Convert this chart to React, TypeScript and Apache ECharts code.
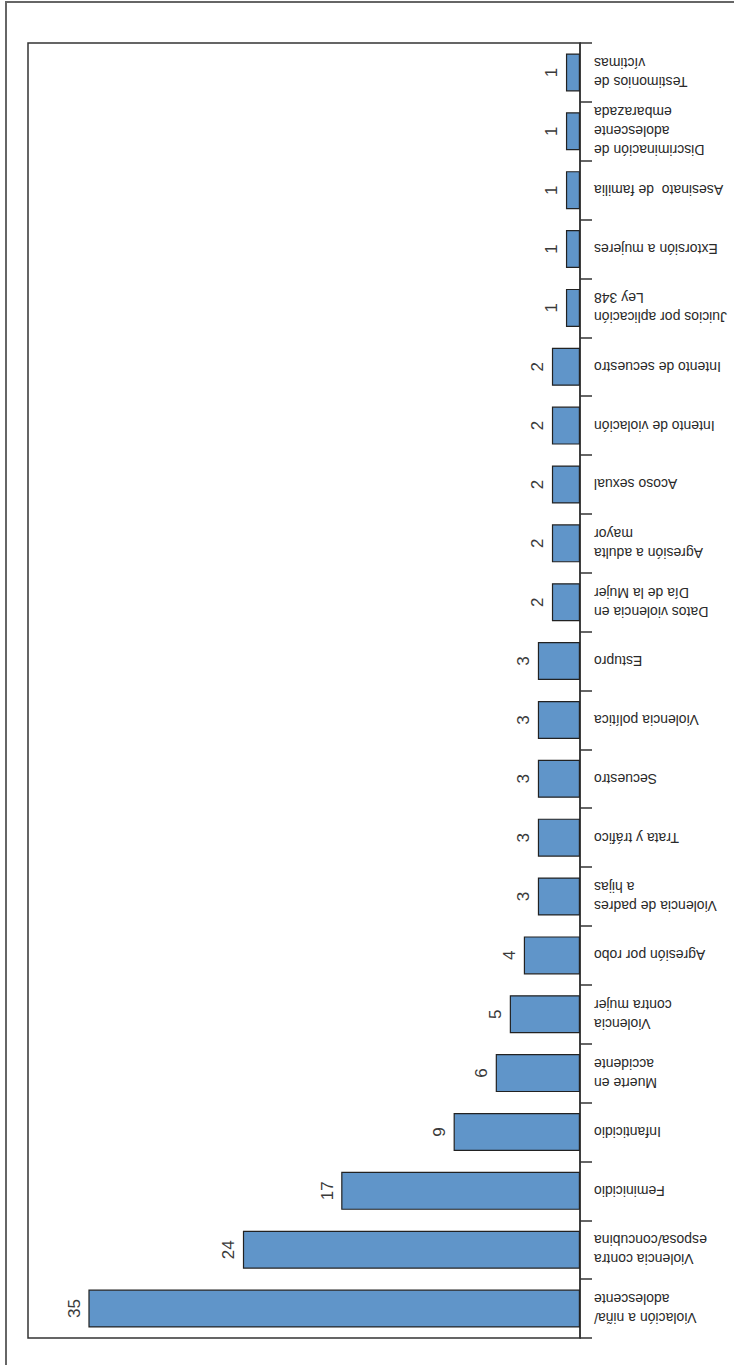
import React, { useEffect, useRef } from "react";
import * as echarts from "echarts";

const categories: string[] = [
  "Violación a niña/\nadolescente",
  "Violencia contra\nesposa/concubina",
  "Feminicidio",
  "Infanticidio",
  "Muerte en\naccidente",
  "Violencia\ncontra mujer",
  "Agresión por robo",
  "Violencia de padres\na hijas",
  "Trata y tráfico",
  "Secuestro",
  "Violencia política",
  "Estupro",
  "Datos violencia en\nDía de la Mujer",
  "Agresión a adulta\nmayor",
  "Acoso sexual",
  "Intento de violación",
  "Intento de secuestro",
  "Juicios por aplicación\nLey 348",
  "Extorsión a mujeres",
  "Asesinato  de familia",
  "Discriminación de\nadolescente\nembarazada",
  "Testimonios de\nvíctimas",
];

const values: number[] = [35, 24, 17, 9, 6, 5, 4, 3, 3, 3, 3, 3, 2, 2, 2, 2, 2, 1, 1, 1, 1, 1];

export default function App() {
  const ref = useRef<HTMLDivElement>(null);
  useEffect(() => {
    if (!ref.current) return;
    const chart = echarts.init(ref.current, null, { renderer: "svg" });
    chart.setOption({
      animation: false,
      backgroundColor: "#ffffff",
      textStyle: { fontFamily: "Liberation Sans" },
      graphic: [
        {
          type: "rect",
          shape: { x: 6, y: 2, width: 900, height: 1500 },
          style: { fill: "none", stroke: "#666", lineWidth: 2 },
          silent: true,
        },
      ],
      grid: {
        left: 28,
        right: 154,
        top: 43,
        bottom: 27,
        show: true,
        borderColor: "#333",
        borderWidth: 1.5,
        backgroundColor: "transparent",
      },
      xAxis: {
        type: "value",
        min: 0,
        max: 39.3,
        inverse: true,
        show: false,
        splitLine: { show: false },
      },
      yAxis: {
        type: "category",
        position: "right",
        data: categories,
        axisLine: { show: true, lineStyle: { color: "#333", width: 1.5 } },
        axisTick: { show: true, length: 12, lineStyle: { color: "#333", width: 1.5 } },
        axisLabel: {
          rotate: 180,
          margin: 14,
          fontSize: 14,
          lineHeight: 19,
          color: "#2a2a2a",
          fontFamily: "Liberation Sans",
        },
      },
      series: [
        {
          type: "bar",
          data: values,
          barWidth: 38,
          itemStyle: { color: "#6095c9", borderColor: "#222", borderWidth: 1.2 },
          label: {
            show: true,
            position: "left",
            rotate: 90,
            distance: 14,
            fontSize: 17,
            color: "#3a3a3a",
            fontFamily: "Liberation Sans",
            align: "center",
            verticalAlign: "middle",
          },
        },
      ],
    });
    return () => chart.dispose();
  }, []);
  return (
    <div
      ref={ref}
      style={{ position: "fixed", left: 0, top: 0, width: 734, height: 1365 }}
    />
  );
}
